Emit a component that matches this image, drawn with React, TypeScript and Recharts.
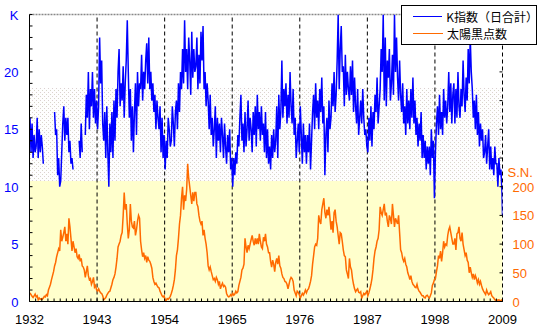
import React from "react";
import { LineChart, Line, XAxis, YAxis, ReferenceArea, ReferenceLine } from "recharts";

// two-month values, one row per year, 1932 .. 2008 (null = no data)
const START_YEAR = 1932;
const kIndex: (number | null)[] = [
  16, 13, 15.5, 12.5, 14.5, 13, // 1932
  13.5, 16, 12.5, 15, 13, 14.5,
  13.5, 12, null, null, null, null,
  null, null, null, null, null, null,
  16.5, 14.5, 15, 11, 12.5, 10,
  10.5, 13, 15.5, 17, 14, 16,
  14.5, 16, 13, 14, 12, 12.5,
  11.5, null, null, null, null, null,
  14, 12.5, 15.5, 13, null, null, // 1940
  14.5, 18, 16, 20, 15, 18.5,
  17, 20, 16, 18.5, 15.5, 17.5,
  15, 17, 23, 19, 21, 15.5,
  14, 16.5, 12.5, 17, 13, 10,
  15.5, 13, 16.5, 12.5, 17.5, 14,
  18.5, 16, 20, 22, 17, 19,
  17.5, 20.5, 16, 19, 21, 24.5,
  20, 16, 18.5, 14, 17, 13,
  16.5, 19, 14.5, 20, 17, 19,
  18.5, 21.5, 17.5, 20, 18.5, 21, // 1950
  22.5, 19, 23, 18.5, 20, 17.5,
  19, 16.5, 18, 15, 17.5, 16,
  15, 17, 13, 16, 12.5, 14.5,
  11.5, 14, 12.5, 16, 15, 13.5,
  14, 17, 15.5, 13.5, 16.5, 17.5,
  15, 19, 16.5, 20, 18.5, 22,
  19, 24.5, 20, 22, 18.5, 23,
  21, 18, 23.5, 19.5, 22, 20,
  20.5, 23, 18.5, 21.5, 19, 23.5,
  21, 24, 18.5, 20, 17, 19, // 1960
  17.5, 15, 18, 14.5, 16, 13.5,
  15, 17, 12.5, 16, 14, 15.5,
  13, 16, 14.5, 12.5, 15.5, 13.5,
  12, 14.5, 13, 15, 11.5, 12.5,
  10, 12.5, 11, 13, 12, 14.5,
  13.5, 16, 18, 14, 15.5, 13,
  16.5, 13.5, 15, 17.5, 14, 16,
  15, 13, 16.5, 14.5, 17, 13.5,
  18, 15, 16.5, 14, 17, 14.5,
  15.5, 13, 16.5, 12.5, 15, 12, // 1970
  13.5, 11.5, 14.5, 12.5, 15, 13,
  14, 17, 12.5, 18, 15, 16.5,
  21, 16, 18.5, 17, 19, 15.5,
  18, 16, 20, 17, 15.5, 18.5,
  14.5, 16, 12.5, 14, 15.5, 13,
  17, 14.5, 12, 15.5, 13, 14.5,
  12, 14.5, 13, 15.5, 11.5, 14,
  16.5, 18, 15, 19, 16, 17.5,
  15, 18.5, 16.5, 19.5, 15.5, 17,
  11, 14.5, 16, 13, 17.5, 15, // 1980
  16, 19, 17, 20, 16.5, 18,
  21, 25, 18.5, 22, 24, 20,
  20.5, 17, 21.5, 18, 20, 18.5,
  17.5, 20.5, 18, 21, 16.5, 19.5,
  17, 15.5, 18.5, 14.5, 16, 17.5,
  15.5, 18.5, 16, 14.5, 15, 13.5,
  13, 16, 14, 17, 13.5, 16.5,
  15, 18, 16.5, 19.5, 15.5, 17,
  18.5, 22, 20, 25, 17.5, 23,
  17, 21, 19.5, 22, 17.5, 19, // 1990
  21.5, 18, 25, 20, 23, 19.5,
  17.5, 21, 18, 16.5, 19, 15.5,
  17, 14.5, 18.5, 15.5, 17.5, 15,
  18.5, 16, 19.5, 15.5, 17.5, 14.5,
  16, 13.5, 15.5, 14, 16.5, 12.5,
  14.5, 12.5, 14, 11.5, 13.5, 12,
  13.5, 11, 15, 12.5, 14, 9,
  13, 15.5, 17, 14.5, 18, 15,
  16.5, 14.5, 18.5, 16, 17.5, 15.5,
  17, 20, 16.5, 19, 15.5, 18, // 2000
  19, 15.5, 18.5, 16, 20, 17,
  16, 18.5, 17, 21, 18, 16.5,
  19.5, 17.5, 22, 19, 23, 20,
  18.5, 16, 17.5, 15, 18, 14.5,
  16.5, 13.5, 15.5, 14, 15, 12.5,
  13, 14.5, 12, 13.5, 15, 11.5,
  13.5, 11.5, 12.5, 11, 13.5, 12,
  12, 10, 12.5, 11, 11.5, 9.5,
];

const sunspots: number[] = [
  15, 12, 9, 7, 10, 13, // 1932
  8, 10, 3, 6, 4, 5,
  4, 6, 9, 8, 12, 10,
  20, 25, 30, 38, 45, 52,
  62, 68, 78, 85, 92, 88,
  125, 105, 112, 120, 130, 105,
  118, 100, 145, 130, 110, 88,
  105, 95, 85, 92, 78, 75,
  82, 70, 75, 62, 60, 55, // 1940
  42, 52, 62, 45, 38, 40,
  30, 35, 42, 25, 28, 20,
  18, 22, 18, 15, 14, 10,
  3, 5, 7, 11, 14, 17,
  18, 24, 30, 38, 42, 48,
  60, 75, 95, 100, 105, 115,
  120, 150, 190, 160, 170, 135,
  110, 125, 170, 140, 130, 128,
  140, 115, 125, 140, 150, 145,
  105, 90, 78, 85, 75, 80, // 1950
  68, 78, 72, 70, 65, 58,
  42, 35, 30, 32, 28, 25,
  24, 18, 14, 10, 8, 10,
  1, 2, 5, 4, 6, 9,
  14, 20, 28, 38, 55, 80,
  90, 110, 135, 150, 180, 200,
  160, 185, 175, 195, 240, 215,
  200, 185, 170, 190, 175, 190,
  190, 170, 165, 150, 140, 135,
  140, 115, 125, 110, 100, 85, // 1960
  62, 55, 60, 52, 45, 38,
  40, 35, 42, 38, 30, 35,
  22, 28, 32, 26, 28, 25,
  14, 10, 8, 9, 12, 10,
  14, 11, 13, 18, 15, 17,
  28, 35, 42, 55, 58, 65,
  110, 95, 85, 98, 92, 100,
  108, 115, 105, 98, 110, 100,
  110, 100, 118, 105, 95, 92,
  112, 105, 118, 100, 95, 85, // 1970
  85, 70, 60, 72, 65, 52,
  68, 75, 65, 80, 62, 58,
  48, 42, 40, 35, 34, 30,
  22, 30, 38, 42, 40, 35,
  20, 15, 10, 18, 16, 12,
  6, 10, 14, 11, 15, 20,
  15, 20, 22, 28, 35, 45,
  65, 80, 95, 100, 98, 110,
  150, 140, 135, 160, 170, 180,
  155, 145, 160, 150, 165, 145, // 1980
  125, 140, 120, 155, 160, 140,
  130, 115, 100, 120, 118, 105,
  90, 80, 78, 55, 48, 40,
  75, 60, 55, 40, 30, 22,
  17, 20, 22, 16, 15, 17,
  6, 10, 14, 12, 15, 18,
  10, 15, 22, 30, 40, 55,
  75, 88, 95, 105, 110, 125,
  165, 155, 150, 160, 170, 150,
  155, 140, 130, 150, 145, 135, // 1990
  170, 150, 130, 145, 140, 135,
  150, 120, 90, 85, 75, 70,
  75, 65, 60, 50, 45, 38,
  45, 35, 30, 28, 25, 24,
  30, 22, 18, 16, 13, 10,
  10, 7, 6, 10, 11, 8,
  6, 10, 15, 28, 32, 38,
  40, 52, 62, 80, 75, 88,
  70, 85, 105, 95, 100, 98,
  115, 125, 130, 120, 110, 100, // 2000
  100, 110, 90, 118, 120, 130,
  110, 105, 120, 100, 90, 80,
  85, 72, 68, 50, 60, 50,
  42, 48, 38, 45, 40, 32,
  38, 30, 35, 28, 22, 18,
  15, 12, 20, 15, 12, 14,
  17, 10, 8, 6, 3, 2,
  3, 2, 3, 1, 2, 3,
];
const kEnd = 7.5; // early 2009
const snEnd = 1;

const yearTicks = Array.from({ length: 78 }, (_, i) => START_YEAR + i);
const yearLabels = [1932, 1943, 1954, 1965, 1976, 1987, 1998, 2009];
const minimaLines = [1943, 1954, 1965, 1976, 1987, 1998, 2009];
const kTicks = Array.from({ length: 26 }, (_, i) => i);
const snTicks = [0, 50, 100, 150, 200, 225, 250, 300, 350, 400, 450, 500];

const data = kIndex.map((k, i) => ({ t: START_YEAR + i / 6 + 1 / 12, k, sn: sunspots[i] }));
data.push({ t: 2009, k: kEnd, sn: snEnd });

const BLUE = "#0000ff";
const ORANGE = "#ff6a00";
const FONT = "'Liberation Sans Narrow', 'Liberation Sans', Arial, sans-serif";

const YearTick = (props: any) => {
  const { x, y, payload } = props;
  const v = payload.value;
  return (
    <g>
      <line x1={x} x2={x} y1={y} y2={y - 3} stroke="#000" />
      {yearLabels.includes(v) && (
        <text x={x} y={y + 22} textAnchor="middle" fill="#000" fontSize={13} fontFamily={FONT}>{v}</text>
      )}
    </g>
  );
};

const KTick = (props: any) => {
  const { x, y, payload } = props;
  const v = payload.value;
  let label = "";
  if (v === 25) label = "K";
  else if (v % 5 === 0) label = String(v);
  return (
    <g>
      <line x1={x} x2={x + 3} y1={y} y2={y} stroke="#000" />
      {label && (
        <text x={x - 11} y={y + 5} textAnchor="end" fill={BLUE} fontSize={13} fontFamily={FONT}>{label}</text>
      )}
    </g>
  );
};

const SnTick = (props: any) => {
  const { x, y, payload } = props;
  const v = payload.value;
  if (v === 225) {
    return <text x={x + 5} y={y + 5} textAnchor="start" fill={ORANGE} fontSize={13} fontFamily={FONT}>S.N.</text>;
  }
  return (
    <g>
      <line x1={x} x2={x - 3} y1={y} y2={y} stroke="#000" />
      {v <= 200 && (
        <text x={x + 10} y={y + 5} textAnchor="start" fill={ORANGE} fontSize={13} fontFamily={FONT}>{v}</text>
      )}
    </g>
  );
};

export default function App() {
  return (
    <div style={{ position: "absolute", left: 0, top: 0, width: 542, height: 333, background: "#fff" }}>
      <svg width={0} height={0} style={{ position: "absolute" }}>
        <defs>
          <pattern id="dots" width={4} height={4} patternUnits="userSpaceOnUse">
            <rect width={4} height={4} fill="#fefefe" />
            <rect x={0} y={0} width={1} height={1} fill="#dcd0d0" />
            <rect x={2} y={2} width={1} height={1} fill="#d8d6c8" />
          </pattern>
        </defs>
      </svg>
      <LineChart width={542} height={333} data={data} margin={{ top: 14.5, right: 0, bottom: 0, left: 0 }}>
        <XAxis
          dataKey="t"
          type="number"
          domain={[1932, 2009]}
          ticks={yearTicks}
          interval={0}
          height={31.5}
          tick={<YearTick />}
          tickSize={0}
          tickMargin={0}
          tickLine={false}
          axisLine={{ stroke: "#000" }}
          allowDataOverflow
        />
        <YAxis
          yAxisId="k"
          domain={[0, 25]}
          ticks={kTicks}
          interval={0}
          width={29.5}
          tick={<KTick />}
          tickSize={0}
          tickMargin={0}
          tickLine={false}
          axisLine={{ stroke: "#000" }}
          allowDataOverflow
        />
        <YAxis
          yAxisId="sn"
          orientation="right"
          domain={[0, 500]}
          ticks={snTicks}
          interval={0}
          width={39.5}
          tick={<SnTick />}
          tickSize={0}
          tickMargin={0}
          tickLine={false}
          axisLine={false}
          allowDataOverflow
        />
        <ReferenceArea yAxisId="k" y1={10.5} y2={18.6} fill="url(#dots)" fillOpacity={1} stroke="none" />
        <ReferenceArea yAxisId="k" y1={0} y2={10.5} fill="#ffffcc" fillOpacity={1} stroke="none" />
        <ReferenceLine yAxisId="k" y={25} stroke="#888" strokeWidth={1.5} strokeDasharray="2 1" />
        {minimaLines.map((yr) => (
          <ReferenceLine key={yr} yAxisId="k" x={yr} stroke="#000" strokeDasharray="4 3" />
        ))}
        <Line yAxisId="sn" dataKey="sn" type="linear" stroke={ORANGE} strokeWidth={1.5} dot={false} isAnimationActive={false} />
        <Line yAxisId="k" dataKey="k" type="linear" stroke={BLUE} strokeWidth={1.5} dot={false} connectNulls={false} isAnimationActive={false} />
      </LineChart>
      <div
        style={{
          position: "absolute",
          left: 401,
          top: 5,
          width: 134,
          height: 38,
          border: "1px solid #000",
          background: "#fff",
          fontFamily: "'Noto Sans CJK JP', sans-serif",
          fontSize: 12,
          lineHeight: "17px",
        }}
      >
        <div style={{ position: "absolute", left: 11, top: 2, display: "flex", alignItems: "center" }}>
          <span style={{ display: "inline-block", width: 30, height: 1, background: BLUE, marginRight: 4 }} />
          <span>K指数（日合計）</span>
        </div>
        <div style={{ position: "absolute", left: 11, top: 19, display: "flex", alignItems: "center" }}>
          <span style={{ display: "inline-block", width: 30, height: 1, background: ORANGE, marginRight: 4 }} />
          <span>太陽黒点数</span>
        </div>
      </div>
    </div>
  );
}
